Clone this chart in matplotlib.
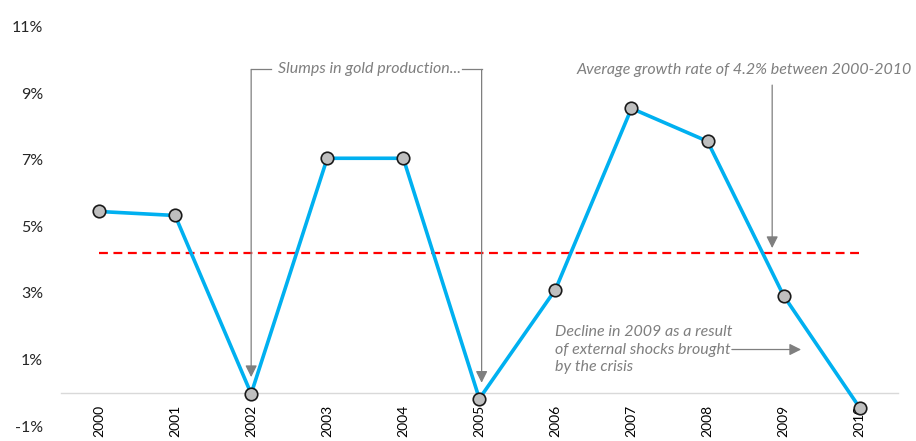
import matplotlib
matplotlib.use("Agg")
import matplotlib.pyplot as plt

plt.rcParams['font.family'] = ['Lato', 'DejaVu Sans']

years = ['2000', '2001', '2002', '2003', '2004', '2005', '2006', '2007', '2008', '2009', '2010']
growth = [5.45, 5.33, -0.03, 7.05, 7.05, -0.18, 3.1, 8.55, 7.56, 2.92, -0.45]
average = 4.2
y_ticks = [-1, 1, 3, 5, 7, 9, 11]

note_slump = "Slumps in gold production..."
note_avg = "Average growth rate of 4.2% between 2000-2010"
note_crisis = "Decline in 2009 as a result\nof external shocks brought\nby the crisis"

fig = plt.figure(figsize=(9.16, 4.41), dpi=100)
ax = fig.add_axes([0.0666, 0.034, 0.9134, 0.905])

x = list(range(len(years)))
ax.plot(x, growth, color='#00B0F0', lw=2.6, zorder=3, solid_joinstyle='miter')
ax.plot(x, growth, ls='none', marker='o', ms=9, mfc='#BFBFBF', mec='#1a1a1a', mew=1.2, zorder=4)
ax.plot([x[0], x[-1]], [average, average], color='#FF0000', lw=1.6, ls=(0, (4, 2.5)), zorder=2)

ax.set_xlim(-0.5, 10.5)
ax.set_ylim(-1, 11)
ax.set_yticks(y_ticks)
ax.set_yticklabels([f"{v}%" for v in y_ticks], fontsize=11.5, color='#262626')
ax.set_xticks(x)
ax.set_xticklabels(years, fontsize=11.5, color='#262626')
for s in ['top', 'right', 'left']:
    ax.spines[s].set_visible(False)
ax.spines['bottom'].set_position(('data', 0))
ax.spines['bottom'].set_color('#D9D9D9')
ax.spines['bottom'].set_linewidth(1.0)
ax.tick_params(axis='y', length=0, pad=13)
ax.tick_params(axis='x', length=0, pad=9, labelrotation=90)
for lab in ax.get_xticklabels():
    lab.set_verticalalignment('top')

gray = '#7F7F7F'
txt_kw = dict(fontsize=11.5, style='italic', color=gray)
arrow_kw = dict(arrowstyle='-|>,head_length=0.7,head_width=0.35', color=gray, lw=0.9, shrinkA=0, shrinkB=0)

# bracket over the two slumps
y_br = 9.72
ax.text(3.55, y_br, note_slump, ha='center', va='center', **txt_kw)
ax.plot([2, 2.26], [y_br, y_br], color=gray, lw=0.9)
ax.plot([4.77, 5.03], [y_br, y_br], color=gray, lw=0.9)
ax.annotate('', xy=(2, 0.47), xytext=(2, y_br), arrowprops=arrow_kw)
ax.annotate('', xy=(5.03, 0.3), xytext=(5.03, y_br), arrowprops=arrow_kw)

# average growth note
ax.text(10.68, 9.7, note_avg, ha='right', va='center', **txt_kw)
ax.annotate('', xy=(8.85, 4.35), xytext=(8.85, 9.25), arrowprops=arrow_kw)

# crisis note
ax.text(6.0, 1.3, note_crisis, ha='left', va='center', linespacing=1.3, **txt_kw)
ax.annotate('', xy=(9.23, 1.3), xytext=(8.32, 1.3), arrowprops=arrow_kw)

fig.savefig('out.png', dpi=100)
